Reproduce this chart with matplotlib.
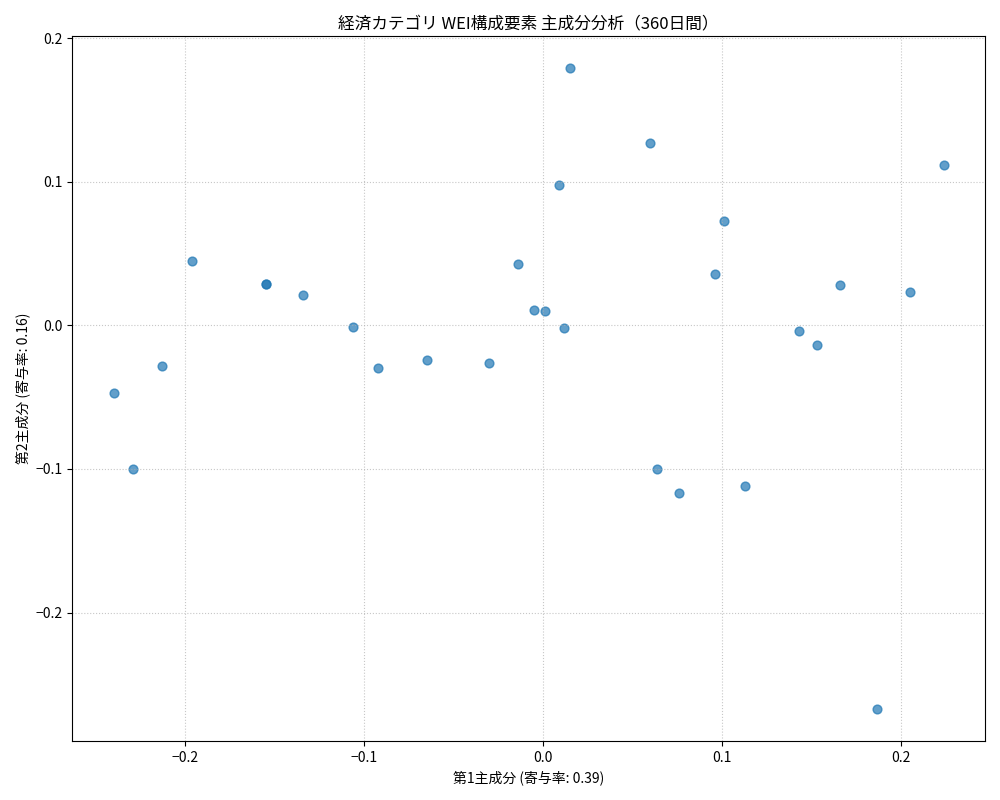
import matplotlib
matplotlib.use("Agg")
import matplotlib.pyplot as plt

plt.rcParams['font.family'] = ['Noto Sans CJK JP', 'DejaVu Sans']

pc1 = [0.015, 0.060, 0.224, 0.009, 0.101, -0.196, -0.014, 0.096, -0.155, -0.155,
       -0.134, 0.166, 0.205, -0.005, 0.001, -0.106, 0.012, 0.143, 0.153, -0.065,
       -0.030, -0.092, -0.213, -0.240, -0.229, 0.064, 0.076, 0.113, 0.187]
pc2 = [0.179, 0.127, 0.112, 0.098, 0.073, 0.045, 0.043, 0.036, 0.029, 0.029,
       0.021, 0.028, 0.023, 0.011, 0.010, -0.001, -0.002, -0.004, -0.014, -0.024,
       -0.026, -0.030, -0.028, -0.047, -0.100, -0.100, -0.117, -0.112, -0.267]

fig, ax = plt.subplots(figsize=(10, 8), dpi=100)
ax.scatter(pc1, pc2, alpha=0.7, s=40)
ax.set_title("経済カテゴリ WEI構成要素 主成分分析（360日間）")
ax.set_xlabel("第1主成分 (寄与率: 0.39)")
ax.set_ylabel("第2主成分 (寄与率: 0.16)")
ax.grid(True, linestyle=':', alpha=0.7)
fig.tight_layout()
fig.savefig("out.png")
